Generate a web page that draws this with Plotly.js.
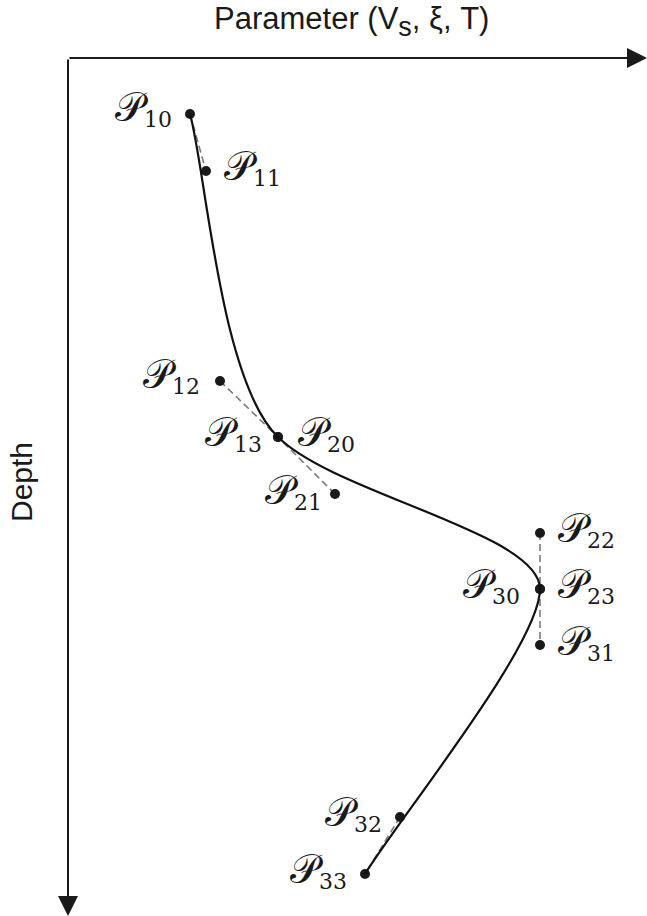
<!DOCTYPE html>
<html>
<head>
<meta charset="utf-8">
<script src="https://cdn.plot.ly/plotly-3.0.1.min.js"></script>
<style>html,body{margin:0;padding:0;background:#fff;}#chart{width:647px;height:916px;}</style>
</head>
<body>
<div id="chart"></div>
<script>
// Control points of the three cubic Bezier segments
var seg1X = [190, 206, 220, 278];
var seg1Y = [114, 171, 381, 437];
var seg2X = [278, 335, 540, 540];
var seg2Y = [437, 494, 533, 589];
var seg3X = [540, 540, 400, 365];
var seg3Y = [589, 645, 817, 874];
var seg1Names = ['10', '11', '12', '13'];
var seg2Names = ['20', '21', '22', '23'];
var seg3Names = ['30', '31', '32', '33'];
var xTitle = 'Parameter (V<sub><span style="font-size:27px">s</span></sub>, ξ, T)';
var yTitle = 'Depth';
var axisOrigin = [68, 58];
var axisEnds = [647, 916];

// label placement (style): side and shifts (dy > 0 moves down)
var labelStyle = {
  '10': {side: 'left', dx: -16, dy: -6},
  '11': {side: 'right', dx: 16, dy: -4},
  '12': {side: 'left', dx: -18, dy: -6},
  '13': {side: 'left', dx: -14, dy: -4},
  '20': {side: 'right', dx: 18, dy: -4},
  '21': {side: 'left', dx: -11, dy: -3},
  '22': {side: 'right', dx: 16, dy: -4},
  '23': {side: 'right', dx: 16, dy: -4},
  '30': {side: 'left', dx: -18, dy: -4},
  '31': {side: 'right', dx: 16, dy: -3},
  '32': {side: 'left', dx: -16, dy: -4},
  '33': {side: 'left', dx: -16, dy: -4}
};

var segs = [[seg1X, seg1Y, seg1Names], [seg2X, seg2Y, seg2Names], [seg3X, seg3Y, seg3Names]];

// Bezier curve as an SVG path shape in data coordinates
var path = 'M' + seg1X[0] + ',' + seg1Y[0];
segs.forEach(function (s) {
  path += ' C' + s[0][1] + ',' + s[1][1] + ' ' + s[0][2] + ',' + s[1][2] + ' ' + s[0][3] + ',' + s[1][3];
});

var dashStyle = {color: '#7a7a7a', width: 1.6, dash: '7px,4px'};
var traces = [
  {x: [seg1X[0], seg1X[1]], y: [seg1Y[0], seg1Y[1]], mode: 'lines', line: dashStyle, hoverinfo: 'skip'},
  {x: [seg1X[2], seg1X[3], seg2X[1]], y: [seg1Y[2], seg1Y[3], seg2Y[1]], mode: 'lines', line: dashStyle, hoverinfo: 'skip'},
  {x: [seg2X[2], seg2X[3], seg3X[1]], y: [seg2Y[2], seg2Y[3], seg3Y[1]], mode: 'lines', line: dashStyle, hoverinfo: 'skip'},
  {x: [seg3X[2], seg3X[3]], y: [seg3Y[2], seg3Y[3]], mode: 'lines', line: dashStyle, hoverinfo: 'skip'}
];

var ptsX = [], ptsY = [];
var annotations = [];
segs.forEach(function (s) {
  for (var i = 0; i < 4; i++) {
    ptsX.push(s[0][i]); ptsY.push(s[1][i]);
    var st = labelStyle[s[2][i]];
    annotations.push({
      x: s[0][i], y: s[1][i], xref: 'x', yref: 'y',
      text: '<span style="font-size:40px">𝒫</span><sub><span style="font-size:22px">' + s[2][i] + '</span></sub>',
      showarrow: false,
      xanchor: st.side === 'left' ? 'right' : 'left',
      yanchor: 'middle',
      xshift: st.dx, yshift: -st.dy,
      font: {family: 'DejaVu Serif, Liberation Serif, serif', size: 30, color: '#1a1a1a'}
    });
  }
});

traces.push({x: ptsX, y: ptsY, mode: 'markers', marker: {size: 10, color: '#1a1a1a'}, hoverinfo: 'skip'});

// axes arrows
annotations.push({
  x: axisEnds[0], y: axisOrigin[1], ax: axisOrigin[0], ay: axisOrigin[1],
  xref: 'x', yref: 'y', axref: 'x', ayref: 'y', text: '', showarrow: true,
  arrowhead: 2, arrowsize: 2, arrowwidth: 2, arrowcolor: '#1a1a1a'
});
annotations.push({
  x: axisOrigin[0], y: axisEnds[1], ax: axisOrigin[0], ay: axisOrigin[1],
  xref: 'x', yref: 'y', axref: 'x', ayref: 'y', text: '', showarrow: true,
  arrowhead: 2, arrowsize: 2, arrowwidth: 2, arrowcolor: '#1a1a1a'
});
annotations.push({
  x: 351, y: 0, xref: 'x', yref: 'y', text: xTitle, showarrow: false,
  xanchor: 'center', yanchor: 'top', borderpad: 0,
  font: {family: 'Liberation Sans, Arial, sans-serif', size: 31, color: '#1a1a1a'}
});
annotations.push({
  x: 21, y: 482, xref: 'x', yref: 'y', text: yTitle, showarrow: false, textangle: -90,
  font: {family: 'Liberation Sans, Arial, sans-serif', size: 30, color: '#1a1a1a'}
});

var layout = {
  width: 647, height: 916,
  margin: {l: 0, r: 0, t: 0, b: 0},
  paper_bgcolor: '#fff', plot_bgcolor: '#fff',
  showlegend: false,
  xaxis: {range: [0, 647], visible: false, fixedrange: true},
  yaxis: {range: [916, 0], visible: false, fixedrange: true},
  shapes: [{type: 'path', path: path, xref: 'x', yref: 'y', line: {color: '#111', width: 2.2}}],
  annotations: annotations
};

Plotly.newPlot('chart', traces, layout, {staticPlot: true, displayModeBar: false});
</script>
</body>
</html>
